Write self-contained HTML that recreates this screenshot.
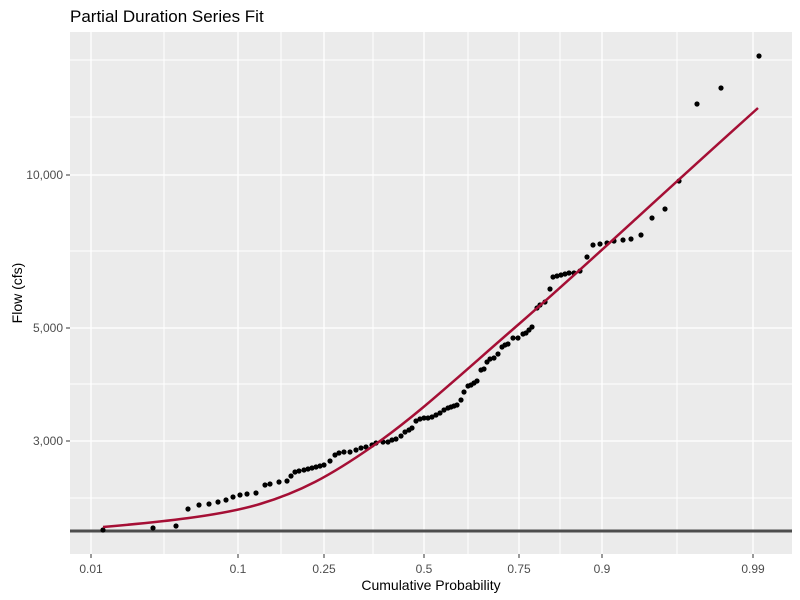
<!DOCTYPE html>
<html><head><style>body{margin:0;background:#fff}svg{display:block;font-family:"Liberation Sans",sans-serif}</style></head><body>
<svg width="800" height="600" xmlns="http://www.w3.org/2000/svg">
<text x="70" y="22" font-size="17" fill="#000">Partial Duration Series Fit</text>
<rect x="70" y="32" width="722" height="522" fill="#ebebeb"/>
<g stroke="#fff" stroke-width="1">
<line x1="70" x2="792" y1="60" y2="60"/><line x1="70" x2="792" y1="117" y2="117"/><line x1="70" x2="792" y1="251" y2="251"/><line x1="70" x2="792" y1="384" y2="384"/><line x1="70" x2="792" y1="498" y2="498"/>
<line y1="32" y2="554" x1="164" x2="164"/><line y1="32" y2="554" x1="281" x2="281"/><line y1="32" y2="554" x1="373" x2="373"/><line y1="32" y2="554" x1="468" x2="468"/><line y1="32" y2="554" x1="560" x2="560"/><line y1="32" y2="554" x1="677" x2="677"/>
</g>
<g stroke="#fff" stroke-width="1.3">
<line x1="70" x2="792" y1="175" y2="175"/><line x1="70" x2="792" y1="328" y2="328"/><line x1="70" x2="792" y1="441" y2="441"/>
<line y1="32" y2="554" x1="91" x2="91"/><line y1="32" y2="554" x1="238" x2="238"/><line y1="32" y2="554" x1="324" x2="324"/><line y1="32" y2="554" x1="424" x2="424"/><line y1="32" y2="554" x1="519" x2="519"/><line y1="32" y2="554" x1="602" x2="602"/><line y1="32" y2="554" x1="753" x2="753"/>
</g>
<line x1="70" x2="792" y1="531" y2="531" stroke="#4d4d4d" stroke-width="3"/>
<g fill="#000">
<circle cx="103" cy="530" r="2.6"/><circle cx="153" cy="528" r="2.6"/><circle cx="176" cy="526" r="2.6"/><circle cx="188" cy="509" r="2.6"/><circle cx="199" cy="505" r="2.6"/><circle cx="209" cy="504" r="2.6"/><circle cx="218" cy="502" r="2.6"/><circle cx="226" cy="500" r="2.6"/><circle cx="233" cy="497" r="2.6"/><circle cx="240" cy="495" r="2.6"/><circle cx="247" cy="494" r="2.6"/><circle cx="256" cy="493" r="2.6"/><circle cx="265" cy="485" r="2.6"/><circle cx="270" cy="484" r="2.6"/><circle cx="279" cy="482" r="2.6"/><circle cx="287" cy="481" r="2.6"/><circle cx="291" cy="476" r="2.6"/><circle cx="295" cy="472" r="2.6"/><circle cx="299" cy="471" r="2.6"/><circle cx="304" cy="470" r="2.6"/><circle cx="308" cy="469" r="2.6"/><circle cx="312" cy="468" r="2.6"/><circle cx="316" cy="467" r="2.6"/><circle cx="320" cy="466" r="2.6"/><circle cx="324" cy="465" r="2.6"/><circle cx="330" cy="461" r="2.6"/><circle cx="335" cy="455" r="2.6"/><circle cx="339" cy="453" r="2.6"/><circle cx="344" cy="452" r="2.6"/><circle cx="350" cy="452" r="2.6"/><circle cx="356" cy="450" r="2.6"/><circle cx="361" cy="448" r="2.6"/><circle cx="366" cy="447" r="2.6"/><circle cx="372" cy="445" r="2.6"/><circle cx="376" cy="443" r="2.6"/><circle cx="383" cy="442" r="2.6"/><circle cx="388" cy="442" r="2.6"/><circle cx="392" cy="440" r="2.6"/><circle cx="396" cy="439" r="2.6"/><circle cx="401" cy="436" r="2.6"/><circle cx="405" cy="432" r="2.6"/><circle cx="409" cy="430" r="2.6"/><circle cx="412" cy="428" r="2.6"/><circle cx="416" cy="421" r="2.6"/><circle cx="420" cy="419" r="2.6"/><circle cx="424" cy="418" r="2.6"/><circle cx="428" cy="418" r="2.6"/><circle cx="432" cy="417" r="2.6"/><circle cx="436" cy="415" r="2.6"/><circle cx="440" cy="413" r="2.6"/><circle cx="444" cy="410" r="2.6"/><circle cx="448" cy="408" r="2.6"/><circle cx="451" cy="407" r="2.6"/><circle cx="454" cy="406" r="2.6"/><circle cx="457" cy="405" r="2.6"/><circle cx="461" cy="400" r="2.6"/><circle cx="464" cy="392" r="2.6"/><circle cx="468" cy="386" r="2.6"/><circle cx="471" cy="385" r="2.6"/><circle cx="474" cy="383" r="2.6"/><circle cx="477" cy="381" r="2.6"/><circle cx="481" cy="370" r="2.6"/><circle cx="484" cy="369" r="2.6"/><circle cx="487" cy="362" r="2.6"/><circle cx="490" cy="359" r="2.6"/><circle cx="494" cy="358" r="2.6"/><circle cx="498" cy="354" r="2.6"/><circle cx="502" cy="347" r="2.6"/><circle cx="505" cy="345" r="2.6"/><circle cx="508" cy="344" r="2.6"/><circle cx="513" cy="338" r="2.6"/><circle cx="518" cy="338" r="2.6"/><circle cx="523" cy="334" r="2.6"/><circle cx="526" cy="333" r="2.6"/><circle cx="529" cy="330" r="2.6"/><circle cx="532" cy="327" r="2.6"/><circle cx="537" cy="308" r="2.6"/><circle cx="540" cy="305" r="2.6"/><circle cx="545" cy="302" r="2.6"/><circle cx="550" cy="289" r="2.6"/><circle cx="553" cy="277" r="2.6"/><circle cx="557" cy="276" r="2.6"/><circle cx="561" cy="275" r="2.6"/><circle cx="565" cy="274" r="2.6"/><circle cx="569" cy="273" r="2.6"/><circle cx="574" cy="273" r="2.6"/><circle cx="580" cy="271" r="2.6"/><circle cx="587" cy="257" r="2.6"/><circle cx="593" cy="245" r="2.6"/><circle cx="600" cy="244" r="2.6"/><circle cx="607" cy="243" r="2.6"/><circle cx="614" cy="241" r="2.6"/><circle cx="623" cy="240" r="2.6"/><circle cx="631" cy="239" r="2.6"/><circle cx="641" cy="235" r="2.6"/><circle cx="652" cy="218" r="2.6"/><circle cx="665" cy="209" r="2.6"/><circle cx="679" cy="181" r="2.6"/><circle cx="697" cy="104" r="2.6"/><circle cx="721" cy="88" r="2.6"/><circle cx="759" cy="56" r="2.6"/>
</g>
<path fill="none" stroke="#a50f35" stroke-width="2.5" d="M103,527 C160,522 220,516 260,504 S330,476 373,446 S450,384 519,324 S640,214 758,108"/>
<g stroke="#333" stroke-width="1">
<line x1="66" x2="70" y1="175" y2="175"/><line x1="66" x2="70" y1="328" y2="328"/><line x1="66" x2="70" y1="441" y2="441"/>
<line y1="554" y2="558" x1="91" x2="91"/><line y1="554" y2="558" x1="238" x2="238"/><line y1="554" y2="558" x1="324" x2="324"/><line y1="554" y2="558" x1="424" x2="424"/><line y1="554" y2="558" x1="519" x2="519"/><line y1="554" y2="558" x1="602" x2="602"/><line y1="554" y2="558" x1="753" x2="753"/>
</g>
<g font-size="12" fill="#4d4d4d" text-anchor="end">
<text x="63" y="179">10,000</text><text x="63" y="332">5,000</text><text x="63" y="445">3,000</text>
</g>
<g font-size="12" fill="#4d4d4d" text-anchor="middle">
<text x="91" y="573">0.01</text><text x="238" y="573">0.1</text><text x="324" y="573">0.25</text><text x="424" y="573">0.5</text><text x="519" y="573">0.75</text><text x="602" y="573">0.9</text><text x="753" y="573">0.99</text>
</g>
<text x="431" y="590" font-size="14" text-anchor="middle">Cumulative Probability</text>
<text transform="translate(22,293) rotate(-90)" font-size="14" text-anchor="middle">Flow (cfs)</text>
</svg>
</body></html>
